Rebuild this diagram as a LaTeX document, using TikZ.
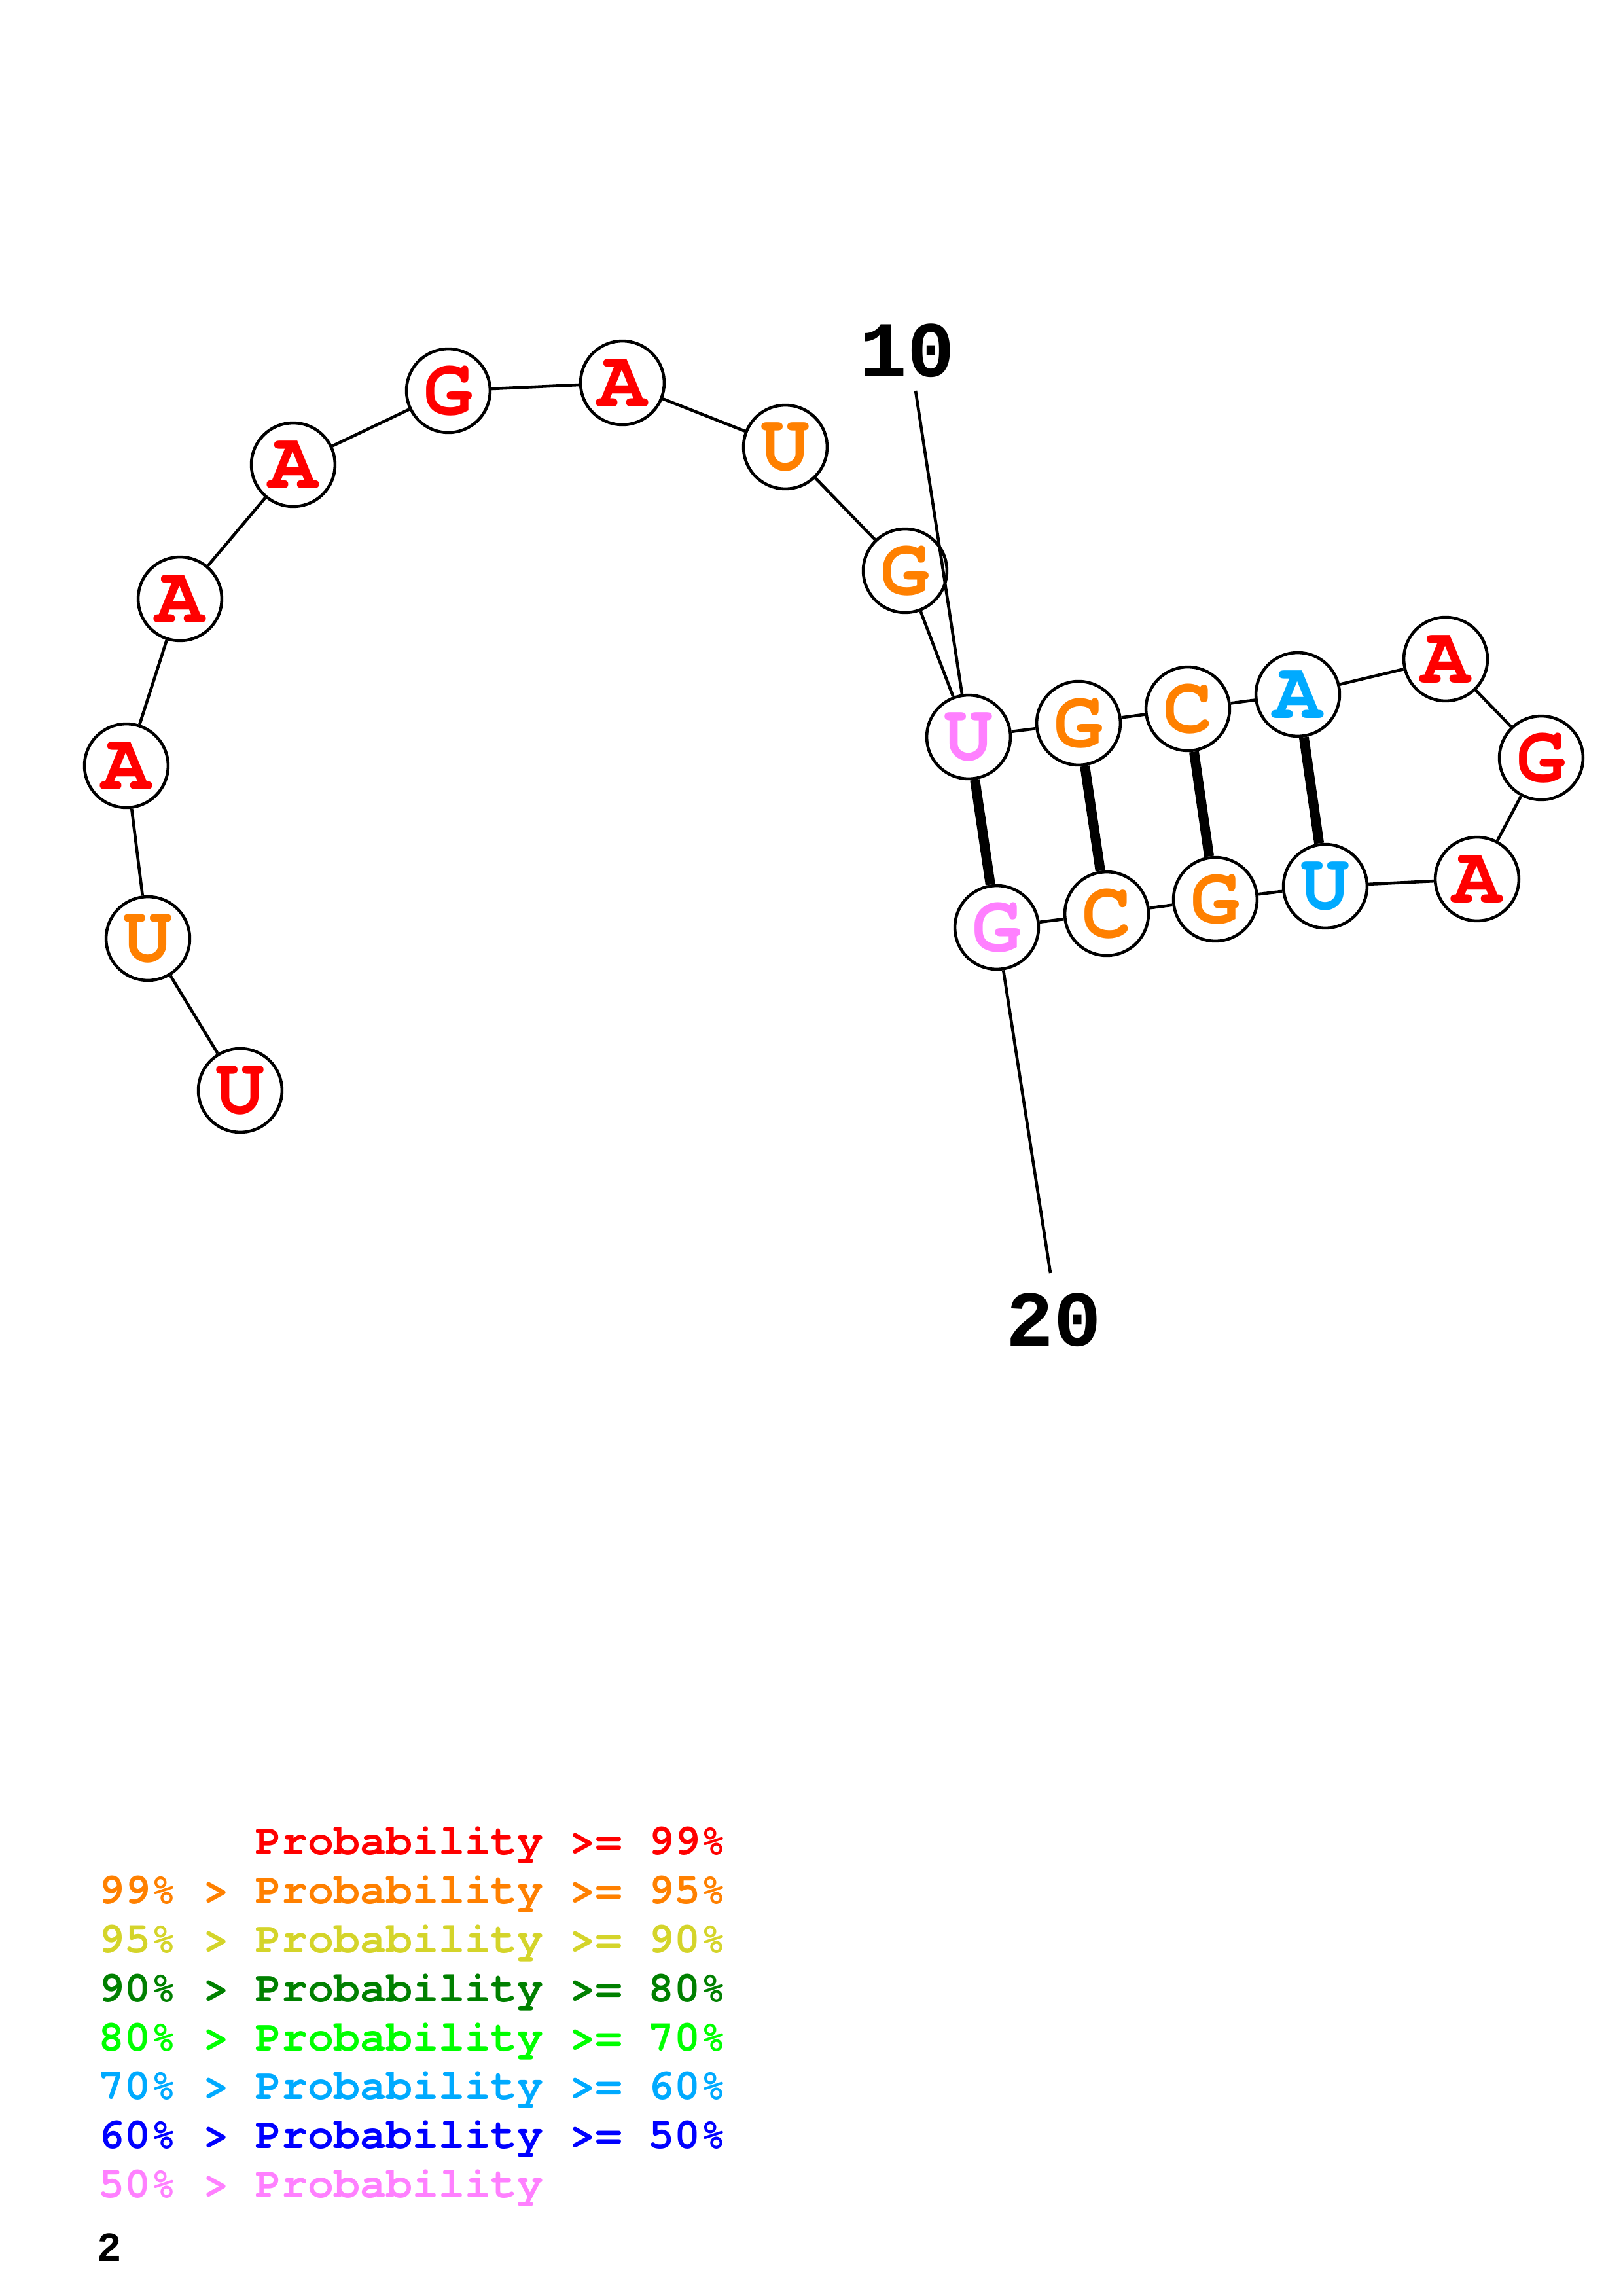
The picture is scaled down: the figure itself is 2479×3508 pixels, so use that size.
\documentclass[tikz,border=0pt]{standalone}
\usepackage{fontspec}
\newfontfamily\nucfont{texgyrecursor-bold.otf}
\newfontfamily\labfont{Liberation Mono}
\definecolor{pr99}{RGB}{255,0,0}
\definecolor{pr95}{RGB}{255,128,0}
\definecolor{pr90}{RGB}{212,212,42}
\definecolor{pr80}{RGB}{0,128,0}
\definecolor{pr70}{RGB}{0,255,0}
\definecolor{pr60}{RGB}{0,170,255}
\definecolor{pr50}{RGB}{0,0,255}
\definecolor{prlow}{RGB}{255,128,255}

\begin{document}
\begin{tikzpicture}[x=0.24014pt, y=-0.24014pt,
    base/.style={circle, draw, fill=white, line width=1.1pt, minimum size=30.7pt,
        inner sep=0pt, font=\nucfont\fontsize{30}{30}\selectfont},
    backbone/.style={line width=1.1pt},
    pairline/.style={line width=3.6pt},
    numlabel/.style={inner sep=0pt, font=\labfont\bfseries\fontsize{29}{29}\selectfont},
    legendrow/.style={anchor=base west, inner sep=0pt, font=\nucfont\fontsize{16}{18}\selectfont}]
    \useasboundingbox (0,0) rectangle (2479,3508);
    \node[base, text=pr99] (n1) at (367,1666) {U};
    \node[base, text=pr95] (n2) at (226,1434) {U};
    \node[base, text=pr99] (n3) at (193,1170) {A};
    \node[base, text=pr99] (n4) at (275,915) {A};
    \node[base, text=pr99] (n5) at (448,710) {A};
    \node[base, text=pr99] (n6) at (685,597) {G};
    \node[base, text=pr99] (n7) at (951,585) {A};
    \node[base, text=pr95] (n8) at (1200,683) {U};
    \node[base, text=pr95] (n9) at (1383,872) {G};
    \node[base, text=prlow] (n10) at (1480,1126) {U};
    \node[base, text=pr95] (n11) at (1648,1105) {G};
    \node[base, text=pr95] (n12) at (1815,1083) {C};
    \node[base, text=pr60] (n13) at (1983,1061) {A};
    \node[base, text=pr99] (n14) at (2209,1007) {A};
    \node[base, text=pr99] (n15) at (2355,1158) {G};
    \node[base, text=pr99] (n16) at (2257,1343) {A};
    \node[base, text=pr60] (n17) at (2025,1354) {U};
    \node[base, text=pr95] (n18) at (1857,1374) {G};
    \node[base, text=pr95] (n19) at (1691,1396) {C};
    \node[base, text=prlow] (n20) at (1523,1417) {G};
    \foreach \i [count=\j from 2] in {1,...,19}
        \draw[backbone] (n\i) -- (n\j);
    \foreach \a/\b in {10/20, 11/19, 12/18, 13/17}
        \draw[pairline] (n\a) -- (n\b);
    \node[numlabel] (lab10) at (1386,536) {10};
    \coordinate (tick10) at (1399,597);
    \draw[backbone] (tick10) -- (n10);
    \node[numlabel] (lab20) at (1610,2017) {20};
    \coordinate (tick20) at (1605,1945);
    \draw[backbone] (n20) -- (tick20);
    \node[legendrow, text=pr99] (leg1) at (150,2833) {\hphantom{99\% > }Probability >= 99\%};
    \node[legendrow, text=pr95] (leg2) at (150,2908) {99\% > Probability >= 95\%};
    \node[legendrow, text=pr90] (leg3) at (150,2983) {95\% > Probability >= 90\%};
    \node[legendrow, text=pr80] (leg4) at (150,3058) {90\% > Probability >= 80\%};
    \node[legendrow, text=pr70] (leg5) at (150,3133) {80\% > Probability >= 70\%};
    \node[legendrow, text=pr60] (leg6) at (150,3207) {70\% > Probability >= 60\%};
    \node[legendrow, text=pr50] (leg7) at (150,3282) {60\% > Probability >= 50\%};
    \node[legendrow, text=prlow] (leg8) at (150,3357) {50\% > Probability};
    \node[anchor=base west, inner sep=0pt, font=\labfont\bfseries\fontsize{15}{15}\selectfont] (struct) at (148,3454) {2};
\end{tikzpicture}
\end{document}
